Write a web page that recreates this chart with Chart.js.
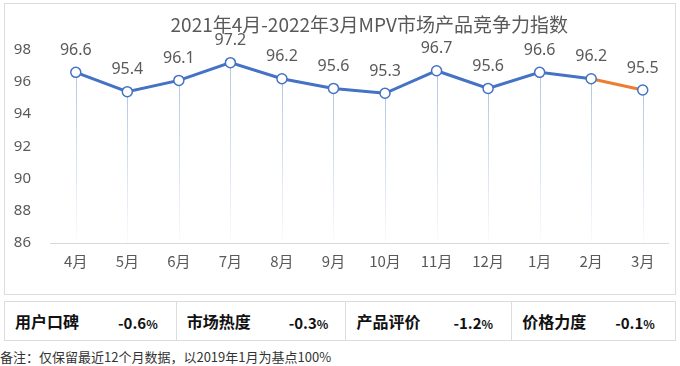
<!DOCTYPE html>
<html>
<head>
<meta charset="utf-8">
<script src="https://cdn.jsdelivr.net/npm/chart.js@4/dist/chart.umd.min.js"></script>
<style>
  body { margin: 0; background: #fff; font-family: "Noto Sans CJK SC", "Noto Sans", sans-serif; }
  #box { position: absolute; left: 4px; top: 3px; width: 670px; height: 290px; border: 1px solid #dcdcdc; }
  #box canvas { position: absolute; left: 0; top: 0; }
  #tbl { position: absolute; left: 4px; top: 301px; width: 672px; height: 40px; border-collapse: collapse; }
  #tbl td { border: 1px solid #dcdcdc; padding: 0; font-size: 16px; font-weight: bold; color: #111; }
  #tbl td span { display: inline-block; }
  .lab { padding-left: 10px; }
  .val { position: absolute; font-size: 15px; }
  .val small { font-size: 12px; }
  #note { position: absolute; left: 0px; top: 347px; font-size: 13px; color: #333; }
</style>
</head>
<body>
<div id="box"><canvas id="c" width="670" height="290"></canvas></div>
<table id="tbl">
  <tr id="row"></tr>
</table>
<div id="note">备注：仅保留最近12个月数据，以2019年1月为基点100%</div>
<script>
// Chart data
const months = ["4月", "5月", "6月", "7月", "8月", "9月", "10月", "11月", "12月", "1月", "2月", "3月"];
const indexValues = [96.6, 95.4, 96.1, 97.2, 96.2, 95.6, 95.3, 96.7, 95.6, 96.6, 96.2, 95.5];
const yTicks = [86, 88, 90, 92, 94, 96, 98];

// Table data
const factorNames = ["用户口碑", "市场热度", "产品评价", "价格力度"];
const factorChanges = [-0.6, -0.3, -1.2, -0.1];

const blue = "#4472c4";
const orange = "#ed7d31";

// Build table row
const row = document.getElementById("row");
const cellWidths = [172, 170, 166, 164];
const valOffsets = [113, 112, 107, 103];
factorNames.forEach((name, i) => {
  const td = document.createElement("td");
  td.style.width = cellWidths[i] + "px";
  td.style.position = "relative";
  td.innerHTML = `<span class="lab">${name}</span><span class="val" style="left:${valOffsets[i]}px;top:10px">${factorChanges[i].toFixed(1)}<small>%</small></span>`;
  row.appendChild(td);
});

// Center the title over the plot area instead of the whole canvas
const titleOverPlot = {
  id: "titleOverPlot",
  afterLayout(chart) {
    const t = chart.titleBlock;
    if (!t) return;
    t.left = chart.chartArea.left + 10;
    t.right = chart.chartArea.right + 10;
    t.width = t.right - t.left;
  }
};

// Drop lines from each point to the x axis, fading out
const dropLines = {
  id: "dropLines",
  beforeDatasetsDraw(chart) {
    const ctx = chart.ctx;
    const meta = chart.getDatasetMeta(0);
    const bottom = chart.scales.y.bottom;
    ctx.save();
    ctx.lineWidth = 1;
    meta.data.forEach(pt => {
      const g = ctx.createLinearGradient(0, pt.y, 0, bottom);
      g.addColorStop(0, "rgba(170,192,228,0.9)");
      g.addColorStop(1, "rgba(170,192,228,0.05)");
      ctx.strokeStyle = g;
      ctx.beginPath();
      ctx.moveTo(Math.round(pt.x) + 0.5, pt.y);
      ctx.lineTo(Math.round(pt.x) + 0.5, bottom);
      ctx.stroke();
    });
    ctx.restore();
  }
};

// Value labels above points
const valueLabels = {
  id: "valueLabels",
  afterDatasetsDraw(chart) {
    const ctx = chart.ctx;
    const meta = chart.getDatasetMeta(0);
    ctx.save();
    ctx.fillStyle = "#595959";
    ctx.font = "16px 'Noto Sans', sans-serif";
    ctx.textAlign = "center";
    ctx.textBaseline = "middle";
    meta.data.forEach((pt, i) => {
      ctx.fillText(indexValues[i].toFixed(1), pt.x, pt.y - 22);
    });
    ctx.restore();
  }
};

new Chart(document.getElementById("c"), {
  type: "line",
  data: {
    labels: months,
    datasets: [{
      data: indexValues,
      borderColor: blue,
      borderWidth: 3,
      pointRadius: 5,
      pointBorderWidth: 1.5,
      pointBackgroundColor: "#fff",
      pointBorderColor: blue,
      tension: 0,
      segment: {
        borderColor: c => c.p1DataIndex === indexValues.length - 1 ? orange : blue
      }
    }]
  },
  options: {
    responsive: false,
    animation: false,
    layout: { padding: { left: 0, right: 6, top: 0, bottom: 23 } },
    plugins: {
      legend: { display: false },
      tooltip: { enabled: false },
      title: {
        display: true,
        text: "2021年4月-2022年3月MPV市场产品竞争力指数",
        color: "#595959",
        font: { size: 19, family: "'Noto Sans CJK SC', sans-serif", weight: "normal" },
        padding: { top: 9, bottom: 14 }
      }
    },
    scales: {
      x: {
        offset: true,
        grid: { display: false },
        border: { color: "#d9d9d9" },
        ticks: { color: "#595959", font: { size: 15, family: "'Noto Sans CJK SC', sans-serif" }, padding: 1 }
      },
      y: {
        min: 86,
        max: 98,
        afterBuildTicks: s => { s.ticks = yTicks.map(v => ({ value: v })); },
        afterFit: s => { s.width = 45; },
        grid: { display: false },
        border: { display: false },
        ticks: { color: "#595959", font: { size: 15, family: "'Noto Sans', sans-serif" }, padding: 11 }
      }
    }
  },
  plugins: [titleOverPlot, dropLines, valueLabels]
});
</script>
</body>
</html>
